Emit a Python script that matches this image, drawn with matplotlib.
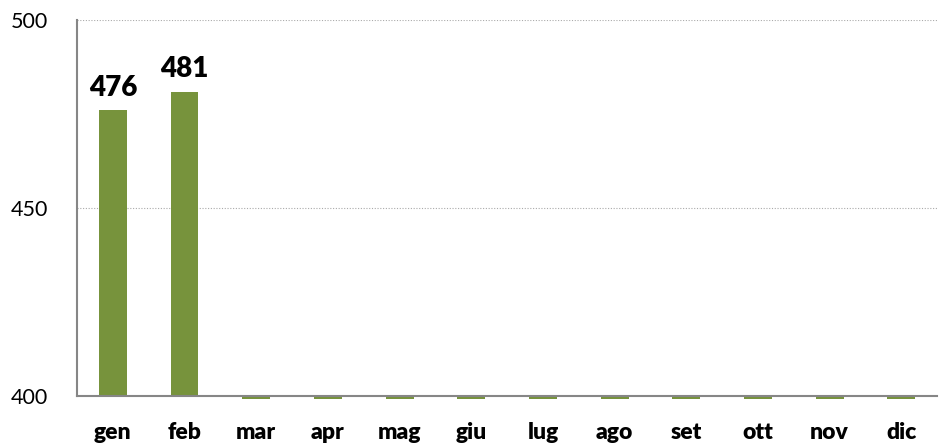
import matplotlib.pyplot as plt

months = ['gen', 'feb', 'mar', 'apr', 'mag', 'giu', 'lug', 'ago', 'set', 'ott', 'nov', 'dic']
values = [476, 481, 0, 0, 0, 0, 0, 0, 0, 0, 0, 0]
y_ticks = [400, 450, 500]

plt.rcParams['font.family'] = ['Lato', 'DejaVu Sans']
green = '#77933C'

fig = plt.figure(figsize=(9.39, 4.46), dpi=100)
ax = fig.add_axes([0.082, 0.112, 0.916, 0.843])

x = range(len(months))
shown = [v if v >= 400 else 400 for v in values]
ax.bar(x, [v - 400 for v in shown], bottom=400, width=0.39, color=green, zorder=3)
# empty months: small stub just under the axis
empty = [i for i, v in enumerate(values) if v < 400]
ax.bar(empty, [-0.7] * len(empty), bottom=400, width=0.39, color=green,
       zorder=3, clip_on=False)

for i, v in enumerate(values):
    if v >= 400:
        ax.text(i, v + 2.5, str(v), ha='center', va='bottom',
                fontsize=20, fontweight='heavy')

ax.set_xlim(-0.5, len(months) - 0.5)
ax.set_ylim(400, 500)
ax.set_yticks(y_ticks)
ax.set_yticklabels([str(t) for t in y_ticks], fontsize=15.5)
ax.set_xticks(list(x))
ax.set_xticklabels(months, fontsize=16.5, fontweight='heavy')
ax.tick_params(axis='y', length=0, pad=21)
ax.tick_params(axis='x', length=0, pad=19)

ax.yaxis.grid(True, linestyle=(0, (1, 1.5)), color='#aaaaaa', linewidth=0.8, zorder=0)
for s in ['top', 'right']:
    ax.spines[s].set_visible(False)
for s in ['left', 'bottom']:
    ax.spines[s].set_color('#868686')
    ax.spines[s].set_linewidth(1.5)
    ax.spines[s].set_zorder(4)

fig.savefig('out.png', dpi=100)
